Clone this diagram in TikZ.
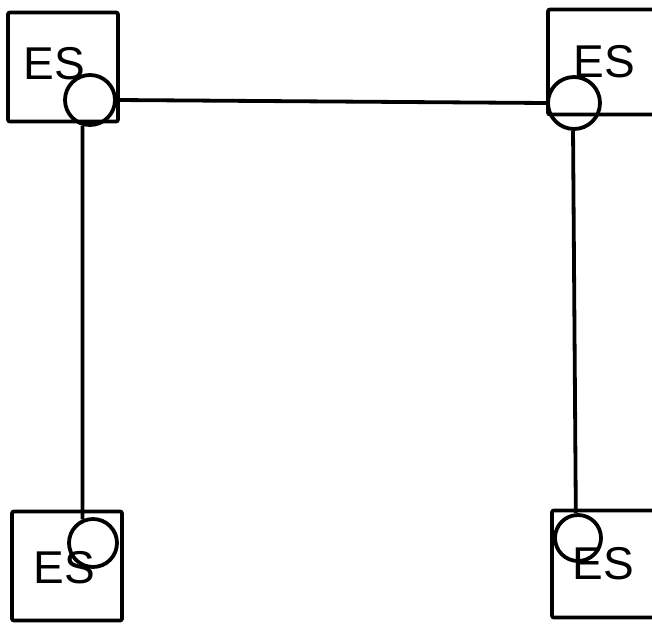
\documentclass[tikz,border=0pt]{standalone}
\usepackage{fontspec}
\setmainfont{Liberation Sans}
\begin{document}
\begin{tikzpicture}[x=1pt,y=-1pt,
  station/.style={draw,line width=3.8pt,rounded corners=2pt,inner sep=0pt,
    minimum width=#1},
  port/.style={draw,circle,line width=3.8pt,inner sep=0pt,minimum size=#1},
  label/.style={font=\fontsize{46}{46}\selectfont,inner sep=0pt},
  link/.style={line width=3.8pt}]
\useasboundingbox (0,0) rectangle (652,626);
\begin{scope}
\clip (0,0) rectangle (652,626);
% end-station boxes
\node[station=110pt,minimum height=109pt] (boxtl) at (63,67) {};
\node[station=120pt,minimum height=105pt] (boxtr) at (608,62) {};
\node[station=110pt,minimum height=109pt] (boxbl) at (67,566) {};
\node[station=120pt,minimum height=107pt] (boxbr) at (612,564) {};
% labels
\node[label] (ltl) at (54,64) {ES};
\node[label] (ltr) at (604,62) {ES};
\node[label] (lbl) at (64,568) {ES};
\node[label] (lbr) at (603,564) {ES};
% attachment ports
\node[port=50pt] (tl) at (90,100) {};
\node[port=52pt] (tr) at (574,103) {};
\node[port=48pt] (bl) at (93,543) {};
\node[port=46pt] (br) at (578,538) {};
% cabling between ports
\draw[link] (tl.east) -- (tr.west);
\draw[link] (tl.254) -- (bl.114);
\draw[link] (tr.268) -- (br.95);
\end{scope}
\end{tikzpicture}
\end{document}
